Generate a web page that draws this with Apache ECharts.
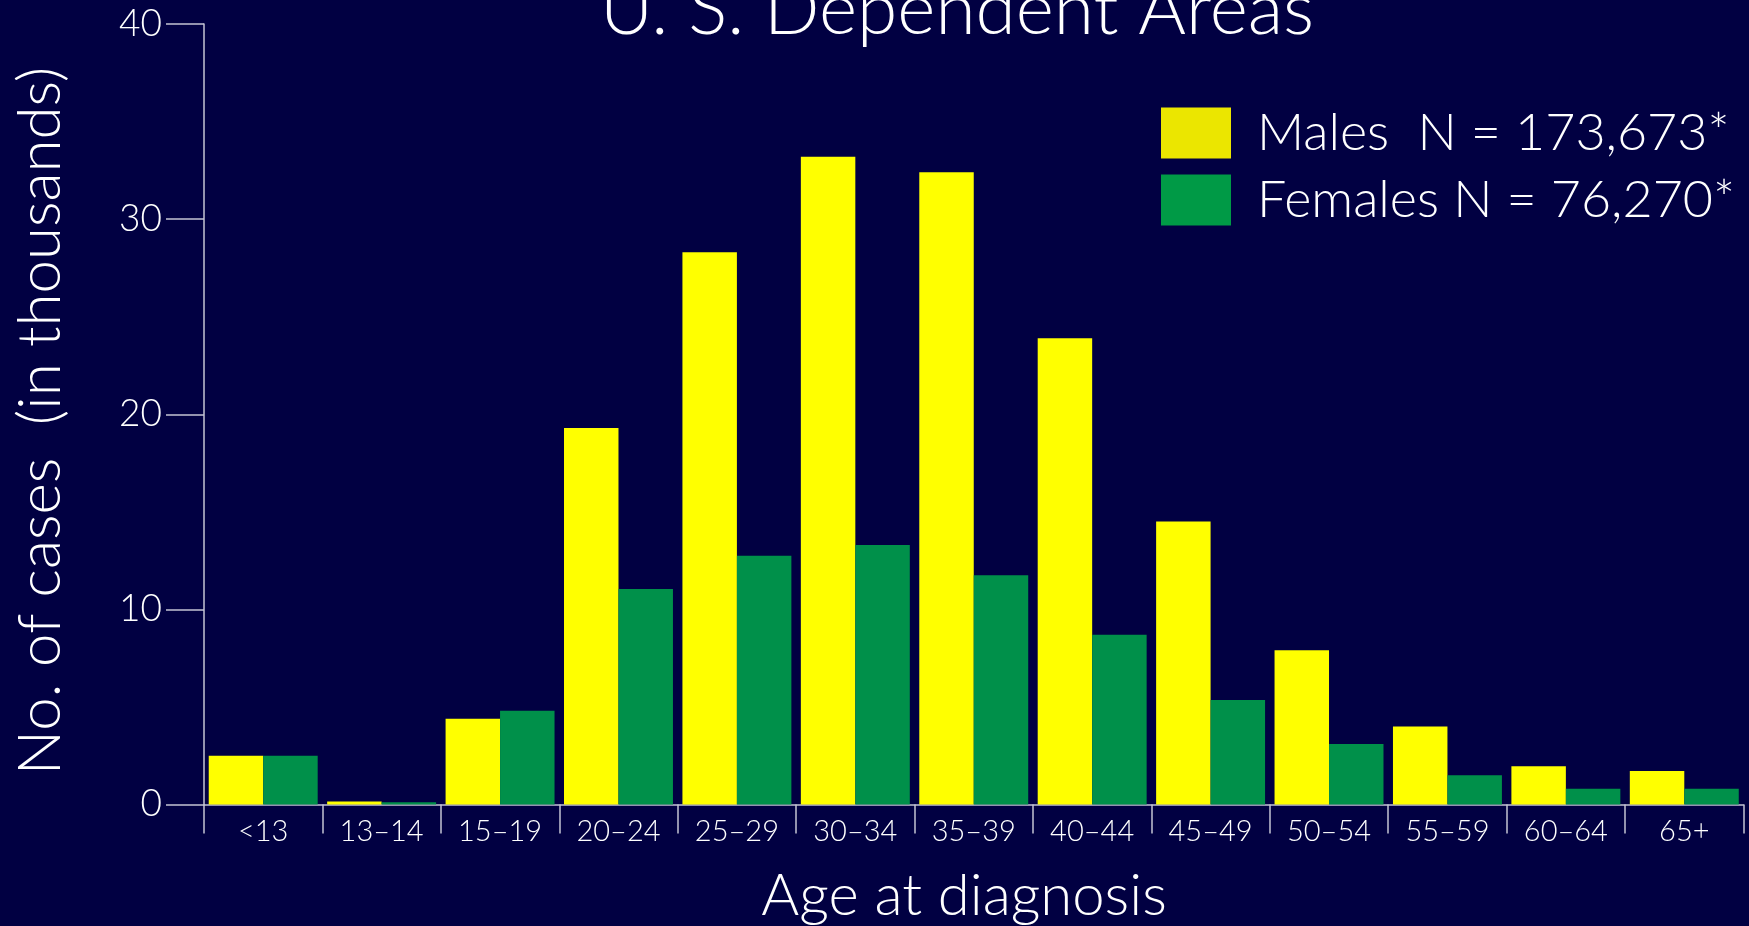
<!DOCTYPE html>
<html>
<head>
<meta charset="utf-8">
<script src="https://cdn.jsdelivr.net/npm/echarts@6/dist/echarts.min.js"></script>
<style>
html,body{margin:0;padding:0;background:#010042;}
#chart{width:1749px;height:926px;}
</style>
</head>
<body>
<div id="chart"></div>
<script>
const categories = ['<13','13–14','15–19','20–24','25–29','30–34','35–39','40–44','45–49','50–54','55–59','60–64','65+'];
const males = [2.5, 0.15, 4.4, 19.3, 28.3, 33.2, 32.4, 23.9, 14.5, 7.9, 4.0, 1.96, 1.72];
const females = [2.5, 0.12, 4.8, 11.05, 12.75, 13.3, 11.75, 8.7, 5.35, 3.1, 1.5, 0.81, 0.81];
const yTicks = [0, 10, 20, 30, 40];
const seriesNames = ['Males', 'Females'];
const legendLabels = {'Males': 'Males  N = 173,673*', 'Females': 'Females N = 76,270*'};
const titleText = 'U. S. Dependent Areas';
const yTitle = 'No. of cases  (in thousands)';
const xTitle = 'Age at diagnosis';

const FONT = 'Lato, "Open Sans", sans-serif';
const chart = echarts.init(document.getElementById('chart'));
const axisColor = '#c4c4d4';
chart.setOption({
  backgroundColor: '#010042',
  animation: false,
  grid: {left: 204, right: 5.5, top: 24, bottom: 121.5, containLabel: false},
  legend: {
    left: 1161, top: 107, orient: 'vertical', padding: 0,
    itemWidth: 70, itemHeight: 51, itemGap: 15,
    icon: 'rect',
    data: [
      {name: seriesNames[0], itemStyle: {color: '#ebe600'}},
      {name: seriesNames[1], itemStyle: {color: '#009a46'}}
    ],
    formatter: n => legendLabels[n],
    textStyle: {color: '#ffffff', fontSize: 52, lineHeight: 52, fontFamily: FONT, fontWeight: 300, padding: [0,0,0,21]}
  },
  xAxis: {
    type: 'category', data: categories,
    axisLine: {lineStyle: {color: axisColor, width: 1.5}},
    axisTick: {show: true, length: 29, interval: 0, lineStyle: {color: axisColor, width: 1.5}},
    axisLabel: {color: '#ffffff', fontSize: 29, fontFamily: FONT, fontWeight: 300, margin: 13, interval: 0}
  },
  yAxis: {
    type: 'value', min: 0, max: 40, interval: 10,
    axisLine: {show: true, lineStyle: {color: axisColor, width: 1.5}},
    axisTick: {show: true, length: 38, lineStyle: {color: axisColor, width: 1.5}},
    splitLine: {show: false},
    axisLabel: {color: '#ffffff', fontSize: 37, fontFamily: FONT, fontWeight: 300, margin: 42,
      formatter: v => yTicks.includes(v) ? String(v) : ''}
  },
  series: [
    {name: seriesNames[0], type: 'bar', data: males, barGap: '0%', barCategoryGap: '8%',
      itemStyle: {color: '#ffff00'}},
    {name: seriesNames[1], type: 'bar', data: females, barGap: '0%', barCategoryGap: '8%',
      itemStyle: {color: '#00904a'}}
  ],
  graphic: [
    {type: 'text', x: 957, y: 10, style: {text: titleText, fill: '#ffffff', font: '300 73px ' + FONT, textAlign: 'center', textVerticalAlign: 'middle'}},
    {type: 'text', x: 964, y: 896, style: {text: xTitle, fill: '#ffffff', font: '300 58px ' + FONT, textAlign: 'center', textVerticalAlign: 'middle'}},
    {type: 'text', x: 41, y: 421, rotation: Math.PI / 2, style: {text: yTitle, fill: '#ffffff', font: '300 60px ' + FONT, textAlign: 'center', textVerticalAlign: 'middle'}}
  ]
});
</script>
</body>
</html>
